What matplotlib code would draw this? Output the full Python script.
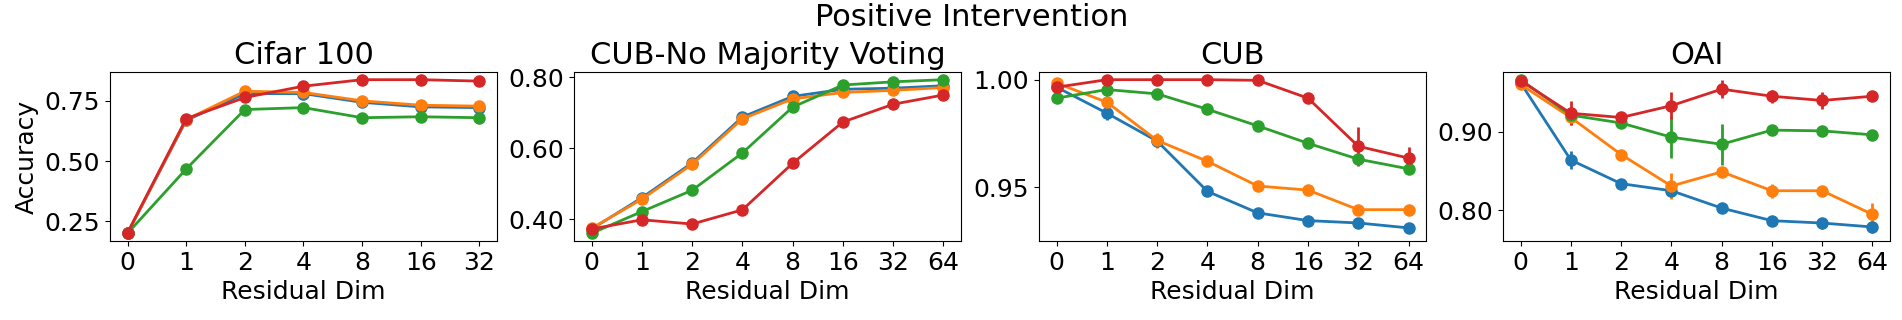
import matplotlib
matplotlib.use("Agg")
import matplotlib.pyplot as plt
from matplotlib.ticker import FormatStrFormatter

# residual dimensions (x tick labels)
dims_cifar = ["0", "1", "2", "4", "8", "16", "32"]
dims = ["0", "1", "2", "4", "8", "16", "32", "64"]

# Cifar 100
cifar_blue = [0.200, 0.669, 0.780, 0.780, 0.744, 0.725, 0.722]
cifar_orange = [0.200, 0.672, 0.790, 0.785, 0.750, 0.732, 0.728]
cifar_green = [0.200, 0.467, 0.714, 0.722, 0.680, 0.684, 0.680]
cifar_red = [0.202, 0.676, 0.764, 0.811, 0.838, 0.838, 0.832]

# CUB - no majority voting
nmv_blue = [0.373, 0.461, 0.559, 0.688, 0.746, 0.766, 0.769, 0.776]
nmv_orange = [0.375, 0.457, 0.555, 0.683, 0.739, 0.757, 0.763, 0.771]
nmv_green = [0.361, 0.422, 0.482, 0.587, 0.716, 0.778, 0.787, 0.793]
nmv_red = [0.373, 0.399, 0.387, 0.427, 0.558, 0.674, 0.724, 0.750]

# CUB
cub_blue = [0.9965, 0.9844, 0.9714, 0.9480, 0.9380, 0.9344, 0.9333, 0.9310]
cub_blue_err = [0.0, 0.0030, 0.0, 0.0, 0.0, 0.0020, 0.0, 0.0025]
cub_orange = [0.9984, 0.9895, 0.9717, 0.9620, 0.9505, 0.9486, 0.9395, 0.9395]
cub_orange_err = [0.0, 0.0, 0.0035, 0.0, 0.0, 0.0, 0.0, 0.0]
cub_green = [0.9914, 0.9954, 0.9934, 0.9862, 0.9785, 0.9704, 0.9630, 0.9585]
cub_green_err = [0.0, 0.0, 0.0, 0.0, 0.0, 0.0020, 0.0, 0.0]
cub_red = [0.9965, 1.0, 1.0, 1.0, 0.9997, 0.9914, 0.9690, 0.9635]
cub_red_err = [0.0, 0.0, 0.0, 0.0, 0.0, 0.0, 0.0090, 0.0050]

# OAI
oai_blue = [0.962, 0.864, 0.834, 0.825, 0.803, 0.787, 0.784, 0.779]
oai_blue_err = [0.0, 0.011, 0.0, 0.004, 0.0, 0.005, 0.007, 0.008]
oai_orange = [0.960, 0.918, 0.871, 0.831, 0.849, 0.825, 0.825, 0.795]
oai_orange_err = [0.0, 0.010, 0.0, 0.017, 0.0, 0.009, 0.0, 0.015]
oai_green = [0.966, 0.921, 0.911, 0.893, 0.884, 0.902, 0.901, 0.896]
oai_green_err = [0.0, 0.0, 0.0, 0.026, 0.026, 0.0, 0.0, 0.0]
oai_red = [0.9647, 0.9234, 0.918, 0.933, 0.954, 0.945, 0.9396, 0.945]
oai_red_err = [0.0, 0.015, 0.0, 0.017, 0.011, 0.008, 0.011, 0.0]

colors = ["tab:blue", "tab:orange", "tab:green", "tab:red"]

panels = [
    ("Cifar 100", dims_cifar, [cifar_blue, cifar_orange, cifar_green, cifar_red], None, [0.25, 0.50, 0.75]),
    ("CUB-No Majority Voting", dims, [nmv_blue, nmv_orange, nmv_green, nmv_red], None, [0.40, 0.60, 0.80]),
    ("CUB", dims, [cub_blue, cub_orange, cub_green, cub_red],
     [cub_blue_err, cub_orange_err, cub_green_err, cub_red_err], [0.95, 1.00]),
    ("OAI", dims, [oai_blue, oai_orange, oai_green, oai_red],
     [oai_blue_err, oai_orange_err, oai_green_err, oai_red_err], [0.80, 0.90]),
]

fig = plt.figure(figsize=(19.02, 3.2), dpi=100)
lefts = [0.0578, 0.3018, 0.5463, 0.7902]

for left, (title, labels, series, errs, yticks) in zip(lefts, panels):
    ax = fig.add_axes([left, 0.247, 0.2035, 0.528])
    x = list(range(len(labels)))
    for i, ys in enumerate(series):
        err = errs[i] if errs is not None else None
        ax.errorbar(x, ys, yerr=err, fmt="-o", color=colors[i], markersize=8,
                    linewidth=2, elinewidth=2, capsize=0)
    ax.set_xticks(x)
    ax.set_xticklabels(labels)
    ax.set_yticks(yticks)
    ax.yaxis.set_major_formatter(FormatStrFormatter("%.2f"))
    ax.tick_params(labelsize=18)
    ax.set_title(title, fontsize=22)
    ax.set_xlabel("Residual Dim", fontsize=18)
    if left == lefts[0]:
        ax.set_ylabel("Accuracy", fontsize=18)

fig.suptitle("Positive Intervention", fontsize=22, x=0.511, y=0.99)
fig.savefig("out.png", dpi=100)
